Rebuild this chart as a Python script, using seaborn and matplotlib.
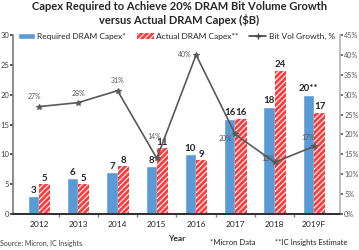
import matplotlib
matplotlib.use("Agg")
import matplotlib.pyplot as plt
import matplotlib.patches as mpatches
import matplotlib.lines as mlines
import seaborn as sns
import pandas as pd

years = ["2012", "2013", "2014", "2015", "2016", "2017", "2018", "2019F"]
required = [3, 6, 7, 8, 10, 16, 18, 20]
actual = [5, 5, 8, 11, 9, 16, 24, 17]
growth = [27, 28, 31, 14, 40, 20, 13, 17]
required_labels = ["3", "6", "7", "8", "10", "16", "18", "20**"]

sns.set_theme(style="white")
plt.rcParams["font.family"] = ["Lato", "DejaVu Sans"]
plt.rcParams["hatch.linewidth"] = 0.8

blue = "#5b9bd5"
red = "#ff3b3b"
gray = "#595959"

df = pd.DataFrame({
    "Year": years * 2,
    "Capex": required + actual,
    "Series": ["Required DRAM Capex*"] * len(years) + ["Actual DRAM Capex**"] * len(years),
})

fig = plt.figure(figsize=(3.59, 2.5), dpi=100)
ax = fig.add_axes([0.036, 0.144, 0.911, 0.716])

sns.barplot(data=df, x="Year", y="Capex", hue="Series", palette=[blue, red],
            width=0.57, gap=0.0, ax=ax, legend=False, saturation=1)

# hatch the actual-capex bars
for bar in ax.containers[1]:
    bar.set_hatch("//////")
    bar.set_edgecolor("white")
    bar.set_linewidth(0)

ax.bar_label(ax.containers[0], labels=required_labels, fontsize=7, fontweight="bold", padding=1)
ax.bar_label(ax.containers[1], labels=[str(v) for v in actual], fontsize=7, fontweight="bold", padding=1)

ax.set_ylim(0, 30)
ax.set_yticks(range(0, 31, 5))
ax.set_ylabel("")
ax.set_xlabel("Year", fontsize=6, fontweight="bold", labelpad=5)
ax.set_xticks([i + 0.5 for i in range(len(years) - 1)], minor=True)
ax.tick_params(axis="x", which="major", labelsize=6, length=0, pad=5)
ax.tick_params(axis="x", which="minor", length=2, color="#7f7f7f", bottom=True)
ax.tick_params(axis="y", labelsize=5.5, length=2, pad=0.5, colors="#404040", left=True)
ax.set_yticklabels([str(v) for v in range(0, 31, 5)])
ax.spines["top"].set_visible(False)
ax.spines["left"].set_color("#7f7f7f")
ax.spines["bottom"].set_color("#7f7f7f")
ax.spines["right"].set_color("#bfbfbf")

ax2 = ax.twinx()
x_pos = list(range(len(years)))
sns.lineplot(x=x_pos, y=growth, ax=ax2, color=gray, linewidth=1.2,
             marker="*", markersize=4, markeredgecolor=gray)
ax2.set_ylim(0, 45)
ax2.set_yticks(range(0, 46, 5))
ax2.set_yticklabels([f"{v}%" for v in range(0, 46, 5)])
ax2.tick_params(axis="y", labelsize=5.2, length=2, pad=1, colors="#595959", right=True)
ax2.spines["top"].set_visible(False)
ax2.spines["right"].set_color("#bfbfbf")
ax2.spines["left"].set_visible(False)
ax2.set_xlim(ax.get_xlim())

label_offsets = [(-3, 7), (0, 6.5), (0, 7), (-2, 16), (-8, 0), (-7, -3), (-5, 3), (-4, 6.5)]
for x, g, off in zip(x_pos, growth, label_offsets):
    ax2.annotate(f"{g}%", (x, g), xytext=off, textcoords="offset points",
                 ha="center", va="center", fontsize=5, color="#595959")

handles = [
    mpatches.Patch(facecolor=blue, label="Required DRAM Capex*"),
    mpatches.Patch(facecolor=red, edgecolor="white", hatch="//////", linewidth=0, label="Actual DRAM Capex**"),
    mlines.Line2D([], [], color="#404040", marker="+", markersize=4, linewidth=1.2, label="Bit Vol Growth, %"),
]
ax2.legend(handles=handles, loc="lower center", bbox_to_anchor=(0.5, 0.93), ncol=3,
           frameon=False, fontsize=6, handlelength=2.0, handleheight=0.6,
           columnspacing=1.3, handletextpad=0.3)

fig.suptitle("Capex Required to Achieve 20% DRAM Bit Volume Growth\nversus Actual DRAM Capex ($B)",
             x=0.5, y=0.995, fontsize=8, fontweight="bold", linespacing=1.2)

fig.text(0.0, 0.015, "Source: Micron, IC Insights", fontsize=5, color="#404040", ha="left")
fig.text(0.585, 0.02, "*Micron Data", fontsize=5.5, color="#202020", ha="left")
fig.text(0.765, 0.02, "**IC Insights Estimate", fontsize=5.5, color="#202020", ha="left")

fig.savefig("out.png", dpi=100)
